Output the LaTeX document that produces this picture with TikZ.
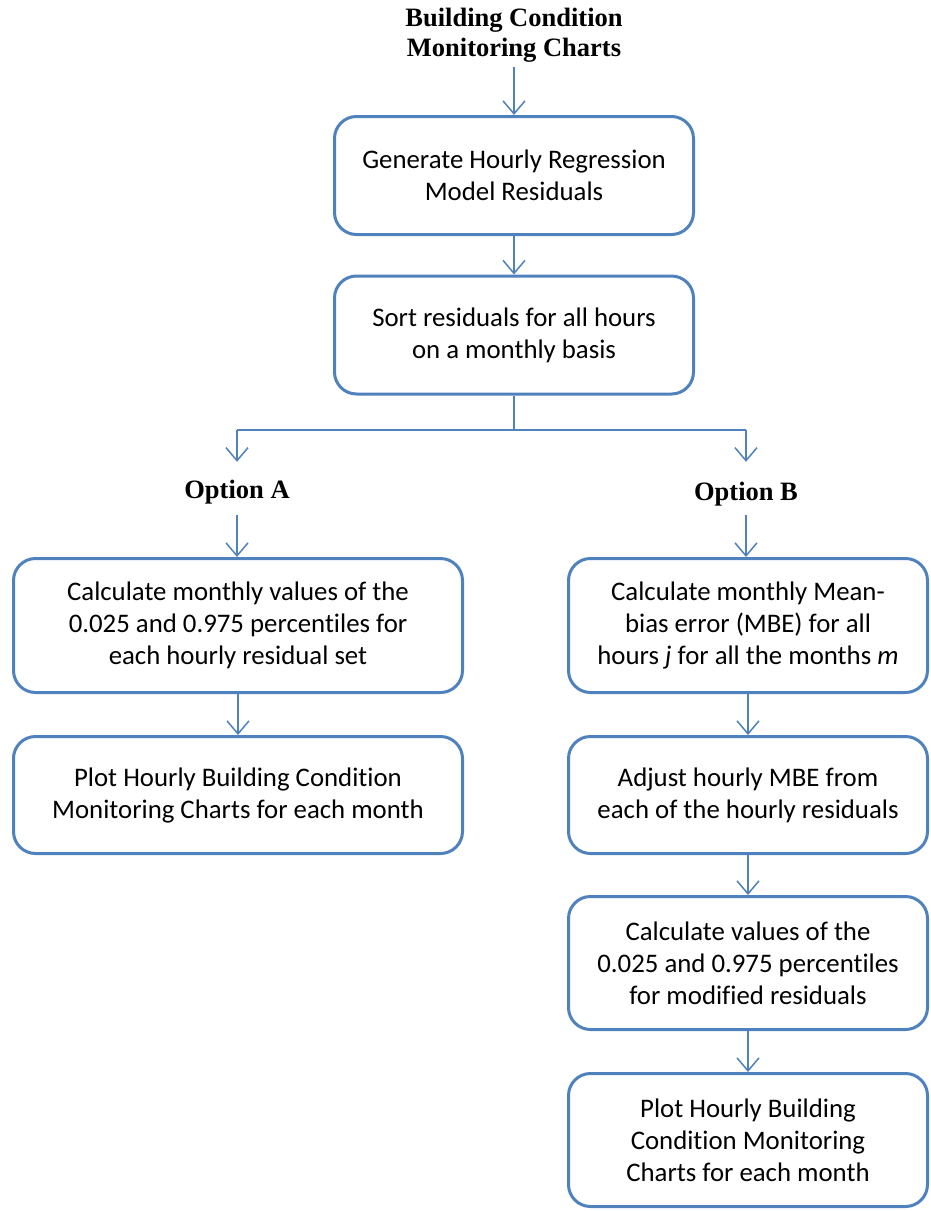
\documentclass[tikz,border=0pt]{standalone}
\usepackage{fontspec}
\setmainfont{Carlito}[Ligatures=NoCommon]
\newfontfamily\titlefont{Liberation Serif}
\usetikzlibrary{arrows.meta}
\definecolor{boxblue}{HTML}{4F81BD}
\tikzset{
  stepbox/.style={draw=boxblue, line width=3pt, rounded corners=22pt, align=center,
    inner sep=0pt, font=\fontsize{26.8}{32}\selectfont},
  conn/.style={draw=boxblue, line width=1.5pt, -{Straight Barb[length=13pt,width=22pt,line width=1.5pt]}},
  plain/.style={draw=boxblue, line width=1.5pt},
  label/.style={font=\titlefont\bfseries\fontsize{26.5}{30}\selectfont, align=center, inner sep=0pt}
}
\begin{document}
\begin{tikzpicture}[x=1pt,y=-1pt]
\useasboundingbox (0,0) rectangle (931,1211);
\node[label] (t) at (514,35) {Building Condition\\Monitoring Charts};
\node[stepbox, minimum width=359pt, minimum height=118pt] (b1) at (514,175.5) {Generate Hourly Regression\\Model Residuals};
\node[stepbox, minimum width=359pt, minimum height=118pt] (b2) at (514,335) {Sort residuals for all hours\\on a monthly basis};
\coordinate (j) at (514,430);
\coordinate (jl) at (237,430);
\coordinate (jr) at (746,430);
\node[label, minimum height=53pt] (oa) at (237,488.5) {\raisebox{-10pt}[0pt][0pt]{Option A}};
\node[label, minimum height=53pt] (ob) at (746,488.5) {\raisebox{-12pt}[0pt][0pt]{Option B}};
\node[stepbox, minimum width=449pt, minimum height=134pt] (a1) at (238,625.5) {Calculate monthly values of the\\0.025 and 0.975 percentiles for\\each hourly residual set};
\node[stepbox, minimum width=449pt, minimum height=117pt] (a2) at (238,795) {Plot Hourly Building Condition\\Monitoring Charts for each month};
\node[stepbox, minimum width=359pt, minimum height=134pt] (r1) at (748,625.5) {Calculate monthly Mean-\\bias error (MBE) for all\\hours \textit{j} for all the months \textit{m}};
\node[stepbox, minimum width=359pt, minimum height=117pt] (r2) at (748,795) {Adjust hourly MBE from\\each of the hourly residuals};
\node[stepbox, minimum width=359pt, minimum height=133pt] (r3) at (748,963) {Calculate values of the\\0.025 and 0.975 percentiles\\for modified residuals};
\node[stepbox, minimum width=359pt, minimum height=133pt] (r4) at (748,1140) {Plot Hourly Building\\Condition Monitoring\\Charts for each month};
\draw[conn, shorten <=5pt] (t.south) -- (b1.north);
\draw[conn] (b1.south) -- (b2.north);
\draw[plain] (b2.south) -- (j);
\draw[plain] (jl) -- (jr);
\draw[conn] (jl) -- (oa.north);
\draw[conn] (jr) -- (ob.north);
\draw[conn] (oa.south) -- (a1.north -| oa.south);
\draw[conn] (ob.south) -- (r1.north -| ob.south);
\draw[conn] (a1.south) -- (a2.north);
\draw[conn] (r1.south) -- (r2.north);
\draw[conn] (r2.south) -- (r3.north);
\draw[conn] (r3.south) -- (r4.north);
\end{tikzpicture}
\end{document}
